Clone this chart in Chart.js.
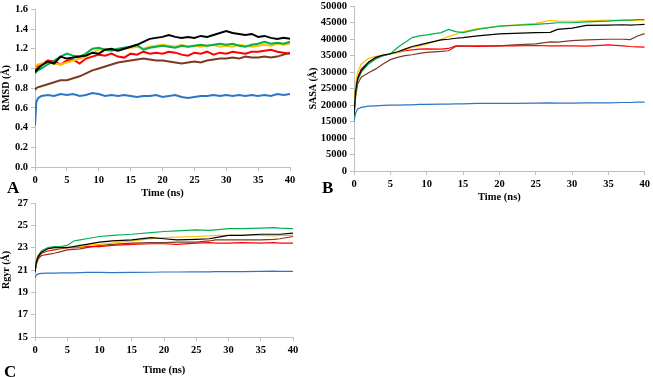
<!DOCTYPE html>
<html lang="en">
<head>
    <meta charset="UTF-8">
    <title>RMSD / SASA / Rgyr</title>
    <script src="https://cdn.jsdelivr.net/npm/chart.js"></script>
    <style>
        body { margin: 0; background: #fff; }
        #wrap { position: relative; width: 653px; height: 377px; overflow: hidden; }
        canvas { position: absolute; }
        .lbl { position: absolute; font: bold 17px "Liberation Serif", serif; color: #000; }
    </style>
</head>
<body>
<div id="wrap">
    <canvas id="rmsd" width="330" height="201" style="left:0;top:0"></canvas>
    <canvas id="sasa" width="348" height="208" style="left:305px;top:-3px"></canvas>
    <canvas id="rgyr" width="330" height="187" style="left:0;top:190px"></canvas>
    <div class="lbl" style="left:7px;top:178px">A</div>
    <div class="lbl" style="left:322px;top:178px">B</div>
    <div class="lbl" style="left:4px;top:362px">C</div>
</div>

<script>
    // ---- RMSD (panel A) ----
    const timeA = [0, 0.2, 0.5, 1, 2, 3, 4, 5, 6, 7, 8, 9, 10, 11, 12, 13, 14, 15, 16, 17, 18, 19, 20,
        21, 22, 23, 24, 25, 26, 27, 28, 29, 30, 31, 32, 33, 34, 35, 36, 37, 38, 39, 40];
    const rmsdBlue = [0.42, 0.66, 0.70, 0.72, 0.73, 0.72, 0.74, 0.73, 0.74, 0.72, 0.73, 0.75, 0.74, 0.72, 0.73, 0.72, 0.73, 0.72, 0.71, 0.72, 0.72, 0.73, 0.71,
        0.72, 0.73, 0.71, 0.70, 0.71, 0.72, 0.72, 0.73, 0.72, 0.73, 0.72, 0.73, 0.72, 0.73, 0.72, 0.73, 0.72, 0.74, 0.73, 0.74];
    const rmsdBrown = [0.78, 0.80, 0.81, 0.82, 0.84, 0.86, 0.88, 0.88, 0.90, 0.92, 0.95, 0.98, 1.00, 1.02, 1.04, 1.06, 1.07, 1.08, 1.09, 1.10, 1.09, 1.08, 1.08,
        1.07, 1.06, 1.05, 1.06, 1.07, 1.06, 1.08, 1.09, 1.10, 1.10, 1.11, 1.10, 1.12, 1.11, 1.11, 1.12, 1.11, 1.12, 1.14, 1.16];
    const rmsdRed = [0.98, 1.01, 1.03, 1.04, 1.08, 1.07, 1.04, 1.08, 1.09, 1.05, 1.10, 1.12, 1.14, 1.13, 1.15, 1.12, 1.11, 1.15, 1.14, 1.17, 1.15, 1.16, 1.15,
        1.17, 1.16, 1.14, 1.13, 1.16, 1.15, 1.17, 1.14, 1.16, 1.15, 1.17, 1.16, 1.15, 1.17, 1.17, 1.18, 1.19, 1.17, 1.16, 1.15];
    const rmsdYellow = [1.00, 1.03, 1.04, 1.05, 1.06, 1.05, 1.04, 1.06, 1.08, 1.10, 1.12, 1.16, 1.19, 1.20, 1.19, 1.18, 1.20, 1.21, 1.22, 1.20, 1.22, 1.23, 1.24,
        1.23, 1.22, 1.24, 1.22, 1.23, 1.22, 1.23, 1.24, 1.22, 1.23, 1.22, 1.24, 1.23, 1.22, 1.23, 1.24, 1.23, 1.25, 1.24, 1.25];
    const rmsdGreen = [0.95, 0.97, 0.98, 1.00, 1.04, 1.08, 1.12, 1.15, 1.13, 1.12, 1.15, 1.20, 1.21, 1.19, 1.18, 1.20, 1.21, 1.22, 1.24, 1.19, 1.21, 1.22, 1.23,
        1.22, 1.21, 1.23, 1.22, 1.23, 1.24, 1.23, 1.24, 1.25, 1.24, 1.25, 1.23, 1.22, 1.24, 1.25, 1.27, 1.25, 1.26, 1.25, 1.27];
    const rmsdBlack = [0.96, 0.98, 1.00, 1.03, 1.07, 1.05, 1.12, 1.10, 1.11, 1.12, 1.13, 1.16, 1.15, 1.19, 1.20, 1.18, 1.20, 1.22, 1.24, 1.27, 1.30, 1.31, 1.32,
        1.34, 1.32, 1.31, 1.32, 1.31, 1.33, 1.32, 1.34, 1.36, 1.38, 1.36, 1.35, 1.34, 1.35, 1.32, 1.33, 1.31, 1.30, 1.31, 1.30];

    // ---- SASA (panel B) ----
    const timeB = [0, 0.2, 0.5, 1, 2, 3, 4, 5, 6, 7, 8, 9, 10, 12, 13, 14, 15, 17, 20, 22, 25, 27, 28, 30, 32, 35, 37, 38, 39, 40];
    const sasaBlue = [15000, 17500, 18800, 19300, 19700, 19800, 19900, 20000, 20000, 20100, 20100, 20200, 20200, 20300, 20300, 20400, 20400,
        20500, 20500, 20500, 20600, 20700, 20600, 20600, 20700, 20700, 20800, 20800, 20900, 20900];
    const sasaBrown = [16500, 22000, 26500, 28500, 29800, 31000, 32500, 33800, 34500, 35000, 35300, 35700, 36000, 36300, 36500, 37800, 37900,
        38000, 38000, 38300, 38600, 39200, 39100, 39600, 39800, 40000, 40000, 39900, 41000, 41700];
    const sasaRed = [17000, 25000, 28500, 31000, 33000, 34200, 35000, 35600, 36000, 36500, 36800, 37000, 37100, 37000, 37200, 38000, 38000,
        37800, 38000, 38000, 38100, 38000, 38000, 38000, 37900, 38300, 38000, 37800, 37700, 37600];
    const sasaYellow = [18000, 26000, 30000, 32500, 34200, 34800, 35200, 35500, 36000, 36800, 37500, 38000, 38500, 40000, 40800, 41500, 42300,
        43200, 44000, 44300, 44800, 45700, 45500, 45400, 45600, 45800, 45700, 45800, 45700, 45800];
    const sasaGreen = [16000, 23000, 27500, 30000, 32500, 34000, 35000, 35500, 37500, 39000, 40500, 41000, 41300, 42000, 43000, 42300, 42000,
        43000, 44000, 44200, 44500, 44800, 45000, 45000, 45300, 45500, 45800, 45800, 46000, 46000];
    const sasaBlack = [17000, 24000, 28000, 30500, 33000, 34500, 35200, 35600, 36200, 37000, 37800, 38300, 38800, 39800, 40000, 40300, 40500,
        41000, 41600, 41800, 42000, 42100, 43000, 43400, 44200, 44300, 44400, 44300, 44400, 44500];

    // ---- Rgyr (panel C) ----
    const timeC = [0, 0.2, 0.5, 1, 2, 3, 4, 5, 6, 7, 8, 10, 12, 15, 18, 20, 22, 25, 27, 28, 30, 32, 35, 37, 38, 40];
    const rgyrBlue = [20.3, 20.55, 20.65, 20.7, 20.72, 20.72, 20.74, 20.74, 20.75, 20.76, 20.78, 20.78, 20.76, 20.78, 20.8, 20.82, 20.82,
        20.84, 20.84, 20.85, 20.85, 20.86, 20.88, 20.9, 20.88, 20.88];
    const rgyrBrown = [20.8, 21.5, 22.0, 22.3, 22.4, 22.5, 22.65, 22.8, 22.85, 22.9, 23.0, 23.2, 23.3, 23.4, 23.45, 23.45, 23.5,
        23.5, 23.6, 23.7, 23.7, 23.7, 23.7, 23.75, 23.8, 24.0];
    const rgyrRed = [20.8, 21.6, 22.1, 22.5, 22.7, 22.8, 22.9, 23.0, 23.0, 23.05, 23.1, 23.1, 23.2, 23.3, 23.35, 23.35, 23.3,
        23.4, 23.45, 23.4, 23.4, 23.45, 23.4, 23.45, 23.4, 23.4];
    const rgyrYellow = [20.8, 21.9, 22.3, 22.7, 22.9, 23.0, 23.0, 23.0, 23.05, 23.1, 23.2, 23.3, 23.4, 23.6, 23.8, 23.9, 23.95,
        24.0, 24.05, 24.1, 24.1, 24.1, 24.1, 24.05, 24.1, 24.1];
    const rgyrGreen = [20.8, 21.8, 22.3, 22.7, 23.0, 23.1, 23.1, 23.2, 23.6, 23.7, 23.8, 24.0, 24.1, 24.2, 24.35, 24.45, 24.5,
        24.6, 24.55, 24.6, 24.7, 24.7, 24.75, 24.8, 24.75, 24.7];
    const rgyrBlack = [20.8, 21.7, 22.2, 22.6, 22.9, 23.0, 23.0, 23.0, 23.1, 23.2, 23.3, 23.5, 23.6, 23.7, 23.9, 23.8, 23.7,
        23.75, 23.8, 23.9, 24.1, 24.1, 24.2, 24.2, 24.2, 24.3];

    const xTicks = [0, 5, 10, 15, 20, 25, 30, 35, 40];

    const colors = { black: "#000000", green: "#00b050", yellow: "#ffc000", red: "#ff0000", brown: "#7b3a22", blue: "#2e75c6" };
    const serif = "'Liberation Serif', 'Times New Roman', serif";
    const axisGrey = "#bfbfbf";

    function pts(times, vals) {
        return times.map((t, i) => ({ x: t, y: vals[i] }));
    }

    // first dataset is drawn on top, so black goes first
    function makeSets(times, s, width) {
        return [
            ["black", s.black], ["green", s.green], ["yellow", s.yellow],
            ["red", s.red], ["brown", s.brown], ["blue", s.blue]
        ].map(([name, vals]) => ({
            label: name,
            data: pts(times, vals),
            borderColor: colors[name],
            borderWidth: width,
            pointRadius: 0,
            tension: 0
        }));
    }

    function makeChart(id, cfg) {
        const ctx = document.getElementById(id).getContext("2d");
        return new Chart(ctx, {
            type: "line",
            data: { datasets: makeSets(cfg.times, cfg.series, cfg.lineWidth) },
            options: {
                responsive: false,
                animation: false,
                layout: { padding: cfg.padding },
                plugins: { legend: { display: false }, tooltip: { enabled: false } },
                scales: {
                    x: {
                        type: "linear",
                        min: 0, max: 40,
                        afterBuildTicks: (s) => { s.ticks = xTicks.map(v => ({ value: v })); },
                        afterFit: (s) => { s.height = cfg.xHeight; },
                        grid: { display: true, drawOnChartArea: false, drawTicks: true, tickLength: 4, color: axisGrey },
                        border: { display: true, color: axisGrey },
                        ticks: { color: "#000", font: { family: serif, size: 10.5, weight: "bold" }, padding: 3, maxRotation: 0 },
                        title: { display: true, text: "Time (ns)", color: "#000", font: { family: serif, size: 10.5, weight: "bold" }, padding: { top: 0, bottom: cfg.titleBottom } }
                    },
                    y: {
                        min: cfg.yMin, max: cfg.yMax,
                        ticks: { stepSize: cfg.yStep, color: "#000", font: { family: serif, size: 10.5, weight: "bold" }, padding: 3, callback: cfg.fmt },
                        afterFit: (s) => { s.width = cfg.yWidth; },
                        grid: { display: true, drawOnChartArea: false, drawTicks: true, tickLength: 4, color: axisGrey },
                        border: { display: true, color: axisGrey },
                        title: { display: true, text: cfg.yTitle, color: "#000", font: { family: serif, size: 10, weight: "bold" }, padding: { top: cfg.yTitlePad, bottom: 0 } }
                    }
                }
            }
        });
    }

    makeChart("rmsd", {
        times: timeA,
        series: { black: rmsdBlack, green: rmsdGreen, yellow: rmsdYellow, red: rmsdRed, brown: rmsdBrown, blue: rmsdBlue },
        lineWidth: 2,
        padding: { top: 6, right: 40, left: 0, bottom: 0 },
        xHeight: 34, yWidth: 35, titleBottom: 1, yTitlePad: 0,
        yMin: 0, yMax: 1.6, yStep: 0.2, yTitle: "RMSD (Å)",
        fmt: (v) => v.toFixed(1)
    });

    makeChart("sasa", {
        times: timeB,
        series: { black: sasaBlack, green: sasaGreen, yellow: sasaYellow, red: sasaRed, brown: sasaBrown, blue: sasaBlue },
        lineWidth: 1.2,
        padding: { top: 7, right: 7, left: 0, bottom: 0 },
        xHeight: 34, yWidth: 49, titleBottom: 1, yTitlePad: 2,
        yMin: 0, yMax: 50000, yStep: 5000, yTitle: "SASA (Å)",
        fmt: (v) => String(v)
    });

    makeChart("rgyr", {
        times: timeC,
        series: { black: rgyrBlack, green: rgyrGreen, yellow: rgyrYellow, red: rgyrRed, brown: rgyrBrown, blue: rgyrBlue },
        lineWidth: 1.2,
        padding: { top: 13, right: 37, left: 0, bottom: 0 },
        xHeight: 40, yWidth: 35, titleBottom: 0, yTitlePad: 0,
        yMin: 15, yMax: 27, yStep: 2, yTitle: "Rgyr (Å)",
        fmt: (v) => String(v)
    });
</script>
</body>
</html>
